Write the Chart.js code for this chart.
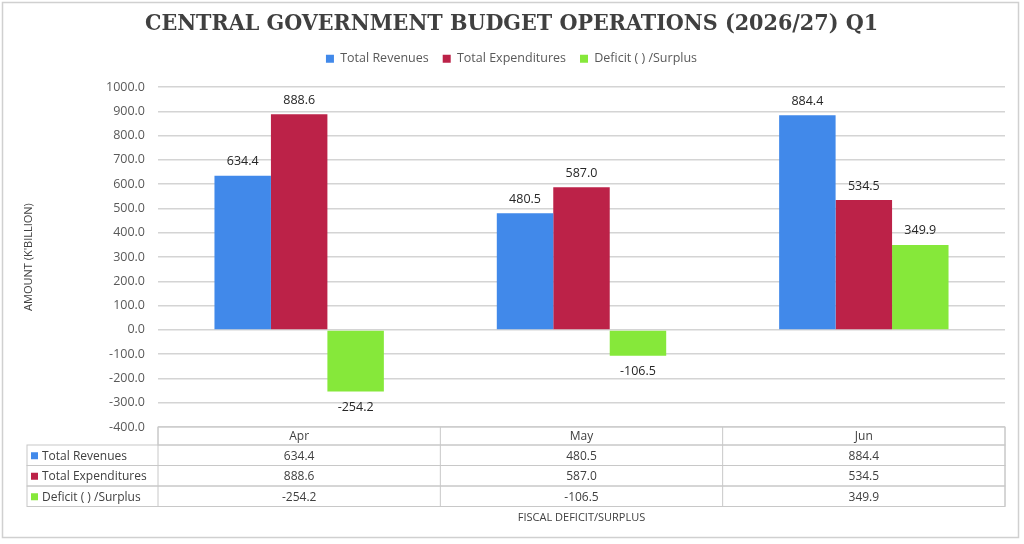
<!DOCTYPE html>
<html>
<head>
<meta charset="utf-8">
<script src="https://cdn.jsdelivr.net/npm/chart.js@4.4.1/dist/chart.umd.min.js"></script>
<style>
  html, body { margin: 0; padding: 0; background: #fff; }
  canvas { display: block; }
</style>
</head>
<body>
<canvas id="budget" width="1024" height="544"></canvas>
<script>
// values
const months = ['Apr', 'May', 'Jun']
const seriesNames = ['Total Revenues', 'Total Expenditures', 'Deficit ( ) /Surplus']
const revenues = [634.4, 480.5, 884.4]
const expenditures = [888.6, 587.0, 534.5]
const deficit = [-254.2, -106.5, 349.9]
const colors = ['#4189ea', '#bc2248', '#86e83a']

const bodyFont = '"Open Sans", "Liberation Sans", sans-serif'

// frame + white background
const framePlugin = {
  id: 'frame',
  beforeDraw(chart) {
    const c = chart.ctx
    c.save()
    c.fillStyle = '#fff'
    c.fillRect(0, 0, chart.width, chart.height)
    c.strokeStyle = '#d0d0d0'
    c.lineWidth = 1.5
    c.strokeRect(2.5, 2.5, 1016, 535)
    c.restore()
  }
}

// value labels over / under each bar
const valueLabels = {
  id: 'valueLabels',
  afterDatasetsDraw(chart) {
    const c = chart.ctx
    c.save()
    c.font = '12.5px ' + bodyFont
    c.fillStyle = '#262626'
    c.textAlign = 'center'
    c.textBaseline = 'middle'
    chart.data.datasets.forEach((ds, i) => {
      chart.getDatasetMeta(i).data.forEach((bar, j) => {
        const v = ds.data[j]
        const y = v >= 0 ? bar.y - 14 : bar.y + 16
        c.fillText(v.toFixed(1), bar.x, y)
      })
    })
    c.restore()
  }
}

// data table under the plot
const dataTable = {
  id: 'dataTable',
  afterDraw(chart) {
    const c = chart.ctx
    const x = chart.scales.x
    const area = chart.chartArea
    const top = area.bottom
    const headH = 18
    const rowH = 20.5
    const leftX = 27
    const colW = (area.right - area.left) / months.length
    c.save()
    c.strokeStyle = '#c8c8c8'
    c.lineWidth = 1
    // header
    c.strokeRect(area.left, top, area.right - area.left, headH)
    // body rows
    for (let r = 0; r < chart.data.datasets.length; r++) {
      const y = top + headH + r * rowH
      c.strokeRect(leftX, y, area.right - leftX, rowH)
    }
    // column lines
    for (let k = 0; k <= months.length; k++) {
      const lx = area.left + k * colW
      c.beginPath()
      c.moveTo(lx, top)
      c.lineTo(lx, top + headH + rowH * chart.data.datasets.length)
      c.stroke()
    }
    c.font = '12px ' + bodyFont
    c.fillStyle = '#404040'
    c.textBaseline = 'middle'
    c.textAlign = 'center'
    months.forEach((m, j) => {
      c.fillText(m, x.getPixelForValue(j), top + headH / 2 + 1)
    })
    chart.data.datasets.forEach((ds, r) => {
      const cy = top + headH + r * rowH + rowH / 2 + 1
      c.textAlign = 'left'
      c.fillStyle = ds.backgroundColor
      c.fillRect(leftX + 4, cy - 4, 7, 7)
      c.fillStyle = '#404040'
      c.fillText(ds.label, leftX + 15, cy)
      c.textAlign = 'center'
      ds.data.forEach((v, j) => {
        c.fillText(v.toFixed(1), x.getPixelForValue(j), cy)
      })
    })
    // x axis title
    c.font = '11px ' + bodyFont
    c.textAlign = 'center'
    c.fillText('FISCAL DEFICIT/SURPLUS', (area.left + area.right) / 2, 518)
    c.restore()
  }
}

new Chart(document.getElementById('budget'), {
  type: 'bar',
  data: {
    labels: months,
    datasets: [
      { label: seriesNames[0], data: revenues, backgroundColor: colors[0] },
      { label: seriesNames[1], data: expenditures, backgroundColor: colors[1] },
      { label: seriesNames[2], data: deficit, backgroundColor: colors[2] }
    ]
  },
  options: {
    responsive: false,
    animation: false,
    layout: { padding: { left: 18, right: 19, top: 4, bottom: 117 } },
    datasets: { bar: { categoryPercentage: 0.6, barPercentage: 1.0 } },
    plugins: {
      title: {
        display: true,
        text: 'CENTRAL GOVERNMENT BUDGET OPERATIONS (2026/27) Q1',
        color: '#404040',
        font: { family: '"DejaVu Serif Condensed", "Liberation Serif", serif', size: 23, weight: 'bold' },
        padding: { top: 6, bottom: 1 }
      },
      legend: {
        position: 'top',
        labels: {
          boxWidth: 8, boxHeight: 8,
          color: '#595959',
          font: { family: bodyFont, size: 12.5 },
          padding: 14
        }
      },
      tooltip: { enabled: false }
    },
    scales: {
      x: {
        ticks: { display: false },
        grid: { display: false, drawTicks: false },
        border: { display: false }
      },
      // empty strip between legend and plot
      gap: {
        type: 'category',
        position: 'top',
        ticks: { display: false },
        grid: { display: false, drawTicks: false },
        border: { display: false },
        afterFit(s) { s.height = 12 }
      },
      y: {
        min: -400,
        max: 1000,
        afterFit(s) { s.width = 140 },
        ticks: {
          stepSize: 50,
          autoSkip: false,
          color: '#595959',
          padding: 13,
          font: { family: bodyFont, size: 12.5 },
          callback: v => (v % 100 === 0 ? v.toFixed(1) : null)
        },
        grid: {
          drawTicks: false,
          color: ctx => (ctx.tick && ctx.tick.value % 100 === 0 ? '#d4d4d4' : '#ececec'),
          lineWidth: ctx => (ctx.tick && ctx.tick.value % 100 === 0 ? 1.5 : 1)
        },
        border: { display: false },
        title: {
          display: true,
          text: "AMOUNT (K'BILLION)",
          color: '#404040',
          font: { family: bodyFont, size: 11 }
        }
      }
    }
  },
  plugins: [framePlugin, valueLabels, dataTable]
})
</script>
</body>
</html>
